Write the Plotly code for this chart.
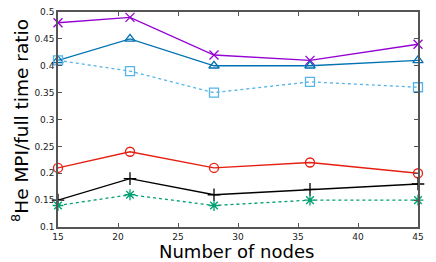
import plotly.graph_objects as go

nodes = [15, 21, 28, 36, 45]
s_purple = [0.48, 0.49, 0.42, 0.41, 0.44]
s_blue = [0.41, 0.45, 0.40, 0.40, 0.41]
s_lightblue = [0.41, 0.39, 0.35, 0.37, 0.36]
s_red = [0.21, 0.24, 0.21, 0.22, 0.20]
s_black = [0.15, 0.19, 0.16, 0.17, 0.18]
s_green = [0.14, 0.16, 0.14, 0.15, 0.15]
x_ticks = [15, 20, 25, 30, 35, 40, 45]
y_ticks = [0.1, 0.15, 0.2, 0.25, 0.3, 0.35, 0.4, 0.45, 0.5]
y_ticktext = ["0.1", "0.15", "0.2", "0.25", "0.3", "0.35", "0.4", "0.45", "0.5"]

series = [
    (s_purple, "#9400D3", "solid", "x-thin-open"),
    (s_blue, "#0072B2", "solid", "triangle-up-open"),
    (s_lightblue, "#56B4E9", "dot", "square-open"),
    (s_red, "#E51E10", "solid", "circle-open"),
    (s_black, "#000000", "solid", "cross-thin-open"),
    (s_green, "#009E73", "dot", "asterisk-open"),
]

fig = go.Figure()
for ys, col, dash, sym in series:
    fig.add_trace(go.Scatter(
        x=nodes, y=ys, mode="lines+markers",
        line=dict(color=col, width=1.3, dash=dash),
        marker=dict(symbol=sym, size=9, color=col, line=dict(color=col, width=1.3)),
        showlegend=False, cliponaxis=False,
    ))

axis_common = dict(
    showgrid=False, zeroline=False, showline=True, linecolor="#555555", linewidth=1.5,
    mirror="ticks", ticks="inside", ticklen=4, tickcolor="#555555", tickwidth=1,
    tickfont=dict(family="DejaVu Sans", size=9, color="#222222"), automargin=False,
)

fig.update_layout(
    width=436, height=262,
    margin=dict(l=58, r=18, t=12, b=35),
    paper_bgcolor="white", plot_bgcolor="white",
    xaxis=dict(range=[15, 45], tickvals=x_ticks, **axis_common),
    yaxis=dict(range=[0.1, 0.5], tickvals=y_ticks, ticktext=y_ticktext, **axis_common),
    annotations=[
        dict(text="Number of nodes", xref="paper", yref="paper", x=0.497, y=(227 - 251) / 215,
             xanchor="center", yanchor="middle", showarrow=False,
             font=dict(family="DejaVu Sans", size=18, color="black")),
        dict(text="<sup>8</sup>He MPI/full time ratio", xref="paper", yref="paper",
             x=(20 - 58) / 360, y=(227 - 121) / 215, textangle=-90,
             xanchor="center", yanchor="middle", showarrow=False,
             font=dict(family="DejaVu Sans", size=18.5, color="black")),
    ],
)

fig.write_html("out.html", config={"displayModeBar": False},
               post_script="document.body.style.margin='0';document.body.style.overflow='hidden';")
